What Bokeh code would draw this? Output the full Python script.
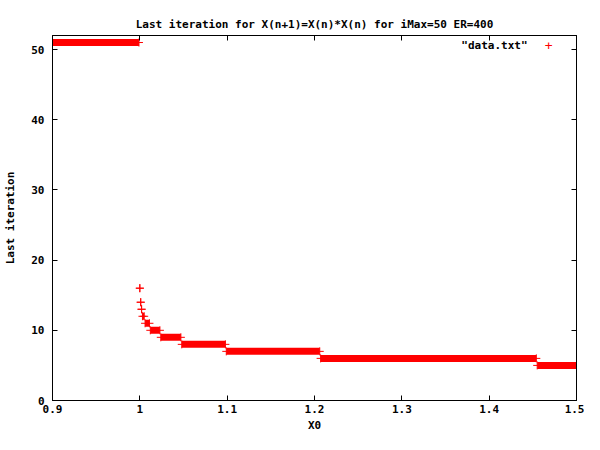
from bokeh.plotting import figure
from bokeh.models import Range1d, FixedTicker, LinearAxis, Label, ColumnDataSource
from bokeh.embed import file_html
from bokeh.resources import INLINE

# Data: plateaus of "last iteration" over X0
levels = [51, 16, 14, 13, 12, 11, 10, 9, 8, 7, 6, 5]
x_start = [0.9, 1.0, 1.001, 1.002, 1.003, 1.006, 1.012, 1.024, 1.048, 1.099, 1.207, 1.455]
x_end = [0.999, 1.0, 1.001, 1.002, 1.005, 1.011, 1.023, 1.047, 1.098, 1.206, 1.454, 1.5]

x_ticks = [0.9, 1.0, 1.1, 1.2, 1.3, 1.4, 1.5]
x_tick_labels = ["0.9", "1", "1.1", "1.2", "1.3", "1.4", "1.5"]
y_ticks = [0, 10, 20, 30, 40, 50]
y_tick_labels = ["0", "10", "20", "30", "40", "50"]

FONT = "DejaVu Sans Mono"
FS = "11px"

src = ColumnDataSource(dict(level=levels, x_start=x_start, x_end=x_end))

p = figure(width=584, height=434, output_backend="svg", toolbar_location=None,
           x_range=Range1d(0.9, 1.5), y_range=Range1d(0, 52),
           min_border_left=52, min_border_right=8, min_border_top=35, min_border_bottom=33)

p.title.text = "Last iteration for X(n+1)=X(n)*X(n) for iMax=50 ER=400"
p.title.align = "center"
p.title.text_font = FONT
p.title.text_font_style = "bold"
p.title.text_font_size = FS
p.title.text_color = "black"

p.grid.visible = False
p.outline_line_color = "black"
p.outline_line_width = 1

p.segment(x0="x_start", y0="level", x1="x_end", y1="level", source=src,
          line_color="#ff0000", line_width=7, line_cap="butt")
p.scatter(x="x_start", y="level", source=src, marker="cross", size=8,
          line_color="#ff0000", line_width=1)
p.scatter(x="x_end", y="level", source=src, marker="cross", size=8,
          line_color="#ff0000", line_width=1)

xo = {t: l for t, l in zip(x_ticks, x_tick_labels)}
yo = {t: l for t, l in zip(y_ticks, y_tick_labels)}

def style(ax, ticks, overrides):
    ax.ticker = FixedTicker(ticks=ticks)
    ax.major_label_overrides = overrides
    ax.major_tick_in = 5
    ax.major_tick_out = 0
    ax.minor_tick_line_color = None
    ax.axis_line_color = "black"
    ax.major_tick_line_color = "black"
    ax.major_label_text_font = FONT
    ax.major_label_text_font_style = "bold"
    ax.major_label_text_font_size = FS
    ax.major_label_text_color = "black"
    ax.axis_label_text_font = FONT
    ax.axis_label_text_font_style = "bold"
    ax.axis_label_text_font_size = FS
    ax.axis_label_text_color = "black"

style(p.xaxis[0], x_ticks, xo)
style(p.yaxis[0], y_ticks, yo)
p.xaxis[0].axis_label = "X0"
p.xaxis[0].major_label_standoff = 4
p.xaxis[0].axis_label_standoff = 3
p.yaxis[0].axis_label = "Last iteration"
p.yaxis[0].major_label_standoff = 8
p.yaxis[0].axis_label_standoff = 11

# mirrored tick marks on the top and right borders (no labels)
top = LinearAxis()
style(top, x_ticks, {t: "" for t in x_ticks})
top.major_label_standoff = 0
p.add_layout(top, "above")
right = LinearAxis()
style(right, y_ticks, {t: "" for t in y_ticks})
right.major_label_standoff = 0
p.add_layout(right, "right")

# key in gnuplot style: label first, then sample symbol
p.add_layout(Label(x=1.444, y=50.57, text='"data.txt"', text_align="right",
                   text_baseline="middle", text_font=FONT, text_font_style="bold",
                   text_font_size=FS, text_color="black"))
p.add_layout(Label(x=1.468, y=50.57, text="+", text_align="center",
                   text_baseline="middle", text_font=FONT,
                   text_font_size="13px", text_color="#ff0000"))

open("out.html", "w").write(file_html(p, INLINE))
